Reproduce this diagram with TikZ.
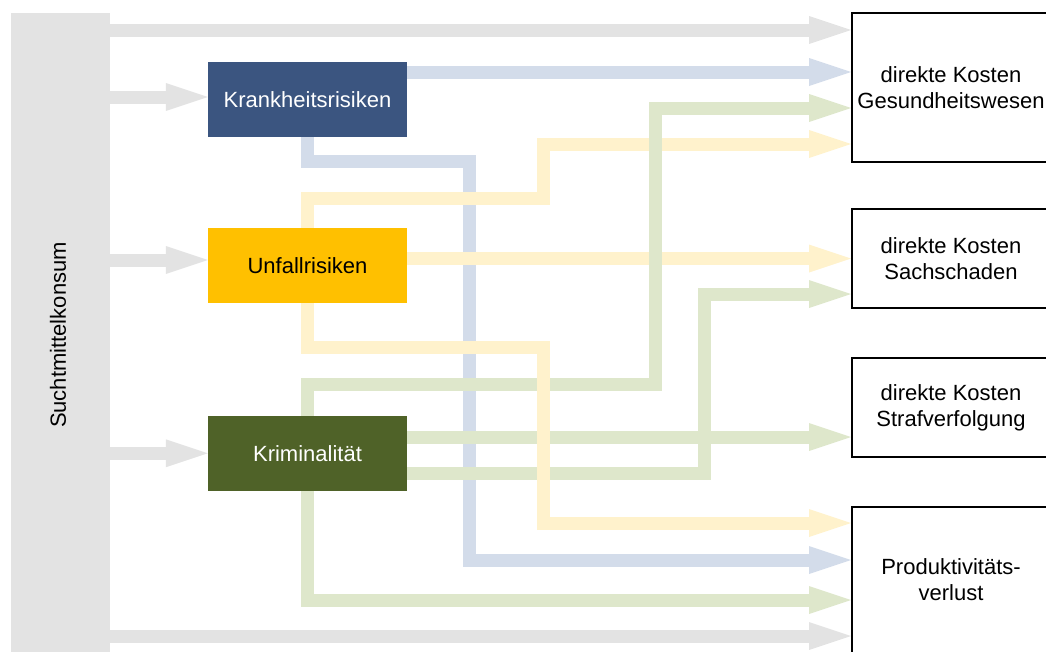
\documentclass[tikz,border=0pt]{standalone}
\usepackage{fontspec}
\setmainfont{Liberation Sans}
\usetikzlibrary{arrows.meta}
\pgfdeclarelayer{bg}
\pgfsetlayers{bg,main}
\definecolor{grayc}{HTML}{E3E3E3}
\definecolor{bluec}{HTML}{D3DCEA}
\definecolor{yelc}{HTML}{FFF2CC}
\definecolor{grnc}{HTML}{DEE7CB}
\definecolor{krblue}{HTML}{3B5580}
\definecolor{ufyellow}{HTML}{FFC000}
\definecolor{krimgreen}{HTML}{4F6228}
\begin{document}
\begin{tikzpicture}[x=1pt,y=-1pt,
  flow/.style={line width=13pt, -{Triangle[length=42pt,width=28pt,line width=0pt]}},
  riskbox/.style={minimum width=199pt, minimum height=75pt, inner sep=0pt, font=\fontsize{22}{26}\selectfont},
  costbox/.style={draw=black, line width=2pt, minimum width=198pt, inner sep=0pt, align=center, font=\fontsize{22}{26}\selectfont}]
\useasboundingbox (0,0) rectangle (1046,651);
\clip (0,0) rectangle (1046,651);

\node[fill=grayc, minimum width=99pt, minimum height=644pt, inner sep=0pt] (bar) at (60.5,335) {};
\node[rotate=90, inner sep=0pt, font=\fontsize{22}{26}\selectfont] (lbl) at (58,335) {Suchtmittelkonsum};

\node[riskbox, fill=krblue, text=white] (kr) at (307.5,99.5) {Krankheitsrisiken};
\node[riskbox, fill=ufyellow, text=black] (uf) at (307.5,265.3) {Unfallrisiken};
\node[riskbox, fill=krimgreen, text=white] (krim) at (307.5,453.3) {Kriminalität};

\node[costbox, minimum height=149pt] (gk) at (951,87.5) {direkte Kosten\\Gesundheitswesen};
\node[costbox, minimum height=99pt] (sach) at (951,258.5) {direkte Kosten\\Sachschaden};
\node[costbox, minimum height=99pt] (straf) at (951,407.5) {direkte Kosten\\Strafverfolgung};
\node[costbox, minimum height=146pt] (pv) at (951,580) {Produktivitäts-\\verlust};

\begin{pgfonlayer}{bg}
% gray
\draw[flow, grayc] (bar.east |- 0,30) -- (gk.west |- 0,30);
\draw[flow, grayc] (bar.east |- 0,97) -- (kr.west |- 0,97);
\draw[flow, grayc] (bar.east |- 0,260) -- (uf.west |- 0,260);
\draw[flow, grayc] (bar.east |- 0,453.3) -- (krim.west);
\draw[flow, grayc] (bar.east |- 0,636) -- (pv.west |- 0,636);
% blue
\draw[flow, bluec] (kr.east |- 0,72) -- (gk.west |- 0,72);
\draw[flow, bluec] (kr.south) |- (469,161) |- (pv.west |- 0,560);
% yellow
\draw[flow, yelc] (uf.north) |- (543,198) |- (gk.west |- 0,144);
\draw[flow, yelc] (uf.east |- 0,258.5) -- (sach.west |- 0,258.5);
% green
\draw[flow, grnc] (krim.north) |- (655,384) |- (gk.west |- 0,108);
\draw[flow, grnc] (krim.east |- 0,437) -- (straf.west |- 0,437);
\draw[flow, grnc] (krim.east |- 0,473) -| (704,294) -- (sach.west |- 0,294);
\draw[flow, grnc] (krim.south) |- (pv.west |- 0,600);
% yellow bottom
\draw[flow, yelc] (uf.south) |- (543,347) |- (pv.west |- 0,523);
\end{pgfonlayer}
\end{tikzpicture}
\end{document}
